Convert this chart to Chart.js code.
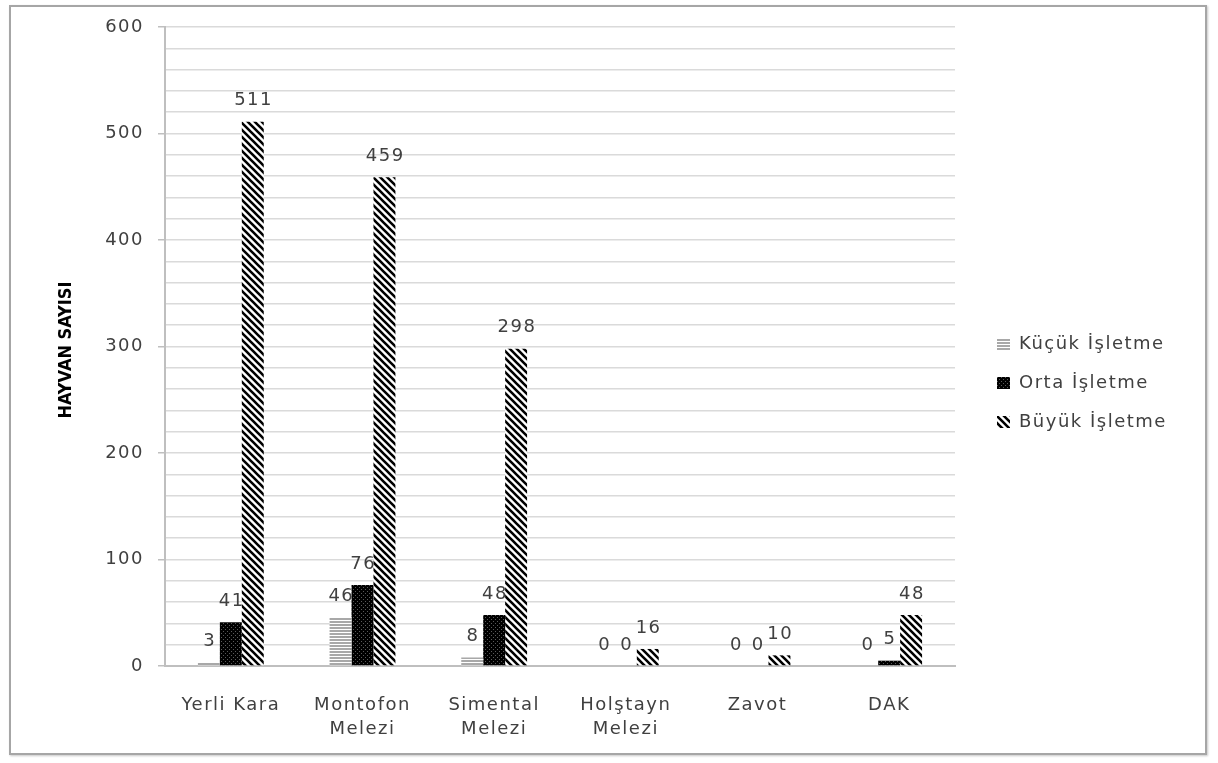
<!DOCTYPE html>
<html>
<head>
<meta charset="utf-8">
<script src="https://cdn.jsdelivr.net/npm/chart.js@4"></script>
<style>
  html, body { margin: 0; padding: 0; background: #fff; }
  #frame {
    position: absolute; left: 9px; top: 5px; width: 1198px; height: 750px;
    border: 2px solid #a6a6a6; box-shadow: 1px 1px 2px #c8c8c8; box-sizing: border-box;
  }
  #wrap { position: absolute; left: 0; top: 0; width: 1218px; height: 763px; }
</style>
</head>
<body>
<div id="frame"></div>
<div id="wrap"><canvas id="c" width="1218" height="763"></canvas></div>
<script>
const categories = [["Yerli Kara"], ["Montofon", "Melezi"], ["Simental", "Melezi"], ["Holştayn", "Melezi"], ["Zavot"], ["DAK"]];
const seriesNames = ["Küçük İşletme", "Orta İşletme", "Büyük İşletme"];
const kucuk = [3, 46, 8, 0, 0, 0];
const orta = [41, 76, 48, 0, 0, 5];
const buyuk = [511, 459, 298, 16, 10, 48];
const yTitle = "HAYVAN SAYISI";

function makePattern(kind) {
  const c = document.createElement('canvas');
  const ctx = c.getContext('2d');
  if (kind === 'h') {
    c.width = 4; c.height = 3;
    ctx.fillStyle = '#ffffff'; ctx.fillRect(0, 0, 4, 3);
    ctx.fillStyle = '#a8a8a8'; ctx.fillRect(0, 0, 4, 2);
  } else if (kind === 'd') {
    c.width = 4; c.height = 4;
    ctx.fillStyle = '#000000'; ctx.fillRect(0, 0, 4, 4);
    ctx.fillStyle = '#5a5a5a'; ctx.fillRect(1, 1, 1, 1); ctx.fillRect(3, 3, 1, 1);
  } else {
    const s = 7;
    c.width = s; c.height = s;
    ctx.fillStyle = '#ffffff'; ctx.fillRect(0, 0, s, s);
    ctx.strokeStyle = '#000000'; ctx.lineWidth = 2.6;
    ctx.beginPath();
    ctx.moveTo(-1, -1); ctx.lineTo(s + 1, s + 1);
    ctx.moveTo(-1 - s, -1); ctx.lineTo(1, s + 1);
    ctx.moveTo(s - 1, -1); ctx.lineTo(2 * s + 1, s + 1);
    ctx.stroke();
  }
  return document.getElementById('c').getContext('2d').createPattern(c, 'repeat');
}
const fills = [makePattern('h'), makePattern('d'), makePattern('s')];

const FONT = "'DejaVu Sans', 'Open Sans', sans-serif";
const TXT = '#404040';
const SPACING = '1.5px';

const spacingPlugin = {
  id: 'spacing',
  beforeInit(chart) { chart.ctx.letterSpacing = SPACING; },
  beforeUpdate(chart) { chart.ctx.letterSpacing = SPACING; },
  beforeDraw(chart) { chart.ctx.letterSpacing = SPACING; }
};

const labelPlugin = {
  id: 'valueLabels',
  afterDatasetsDraw(chart) {
    const ctx = chart.ctx;
    ctx.save();
    ctx.letterSpacing = SPACING;
    ctx.font = '18px ' + FONT;
    ctx.fillStyle = TXT;
    ctx.textAlign = 'center';
    ctx.textBaseline = 'middle';
    chart.data.datasets.forEach((ds, i) => {
      chart.getDatasetMeta(i).data.forEach((bar, j) => {
        ctx.fillText(String(ds.data[j]), bar.x + 0.8, bar.y - 21);
      });
    });
    ctx.restore();
  }
};

const legendTitlePlugin = {
  id: 'customLegend',
  afterDraw(chart) {
    const ctx = chart.ctx;
    ctx.save();
    ctx.letterSpacing = SPACING;
    ctx.font = '18px ' + FONT;
    ctx.textBaseline = 'middle';
    ctx.textAlign = 'left';
    const x0 = 997, ys = [344, 383, 422];
    seriesNames.forEach((n, i) => {
      ctx.fillStyle = fills[i];
      ctx.fillRect(x0, ys[i] - 6, 13, 12);
      ctx.fillStyle = TXT;
      ctx.fillText(n, x0 + 22, ys[i]);
    });
    ctx.restore();
    // y axis title
    ctx.save();
    ctx.letterSpacing = '0px';
    ctx.font = "bold 18px 'Liberation Sans Narrow', 'DejaVu Sans Condensed', sans-serif";
    ctx.fillStyle = '#000';
    ctx.textAlign = 'center';
    ctx.textBaseline = 'middle';
    ctx.translate(66, 350);
    ctx.rotate(-Math.PI / 2);
    ctx.fillText(yTitle, 0, 0);
    ctx.restore();
  }
};

new Chart(document.getElementById('c'), {
  type: 'bar',
  data: {
    labels: categories,
    datasets: [
      { label: seriesNames[0], data: kucuk, backgroundColor: fills[0] },
      { label: seriesNames[1], data: orta, backgroundColor: fills[1] },
      { label: seriesNames[2], data: buyuk, backgroundColor: fills[2] }
    ]
  },
  options: {
    responsive: false,
    animation: false,
    events: [],
    layout: { padding: { left: 55, right: 263, top: 27, bottom: 0 } },
    datasets: { bar: { barPercentage: 1, categoryPercentage: 0.5 } },
    plugins: { legend: { display: false }, tooltip: { enabled: false } },
    scales: {
      x: {
        afterFit(s) { s.height = 763 - 666; },
        grid: { display: false, drawTicks: false },
        border: { display: true, color: '#bfbfbf', width: 2 },
        ticks: { color: TXT, font: { family: FONT, size: 18, lineHeight: 1.33 }, padding: 27, maxRotation: 0, autoSkip: false }
      },
      y: {
        min: 0, max: 600,
        afterFit(s) { s.width = 165 - 55; },
        border: { display: true, color: '#bfbfbf', width: 2 },
        grid: {
          color: '#dadada', lineWidth: 1.5, tickLength: 7,
          tickColor: (c) => (c.tick && c.tick.value % 100 === 0) ? '#bfbfbf' : 'rgba(0,0,0,0)'
        },
        ticks: {
          stepSize: 20, autoSkip: false, padding: 14, color: TXT,
          font: { family: FONT, size: 18 },
          callback: (v) => (v % 100 === 0 ? String(v) : '')
        }
      }
    }
  },
  plugins: [spacingPlugin, labelPlugin, legendTitlePlugin]
});
</script>
</body>
</html>
